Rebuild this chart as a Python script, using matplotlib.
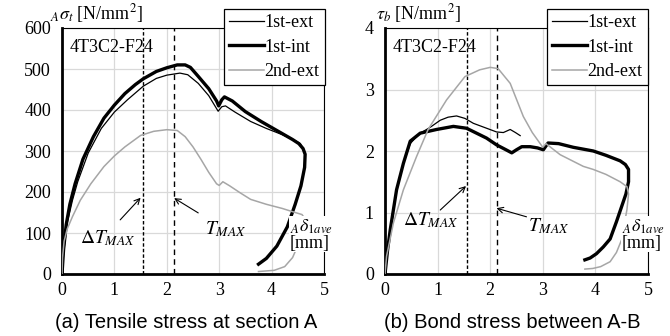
import matplotlib
matplotlib.use("Agg")
import matplotlib.pyplot as plt

plt.rcParams["font.family"] = ["Liberation Serif", "DejaVu Serif"]
plt.rcParams["mathtext.fontset"] = "stix"

# (a) tensile stress at section A: delta [mm], sigma [N/mm2]
a_ext_x = [0, 0.04, 0.1, 0.2, 0.3, 0.5, 0.75, 1.0, 1.25, 1.55, 1.8, 2.0, 2.25, 2.4,
           2.6, 2.8, 2.98, 3.05, 3.12, 3.3, 3.6, 3.9, 4.2, 4.45, 4.55, 4.6]
a_ext_y = [0, 60, 125, 180, 225, 295, 355, 395, 425, 458, 477, 485, 490, 486,
           465, 435, 397, 408, 410, 395, 372, 355, 340, 325, 318, 305]
a_int_x = [0, 0.03, 0.08, 0.15, 0.25, 0.4, 0.6, 0.8, 1.0, 1.2, 1.4, 1.55, 1.8, 2.0,
           2.2, 2.35, 2.45, 2.6, 2.8, 2.95, 2.99, 3.05, 3.1, 3.25, 3.5, 3.8, 4.1,
           4.4, 4.52, 4.6, 4.64, 4.63, 4.56, 4.45, 4.3, 4.1, 3.9, 3.75]
a_int_y = [0, 60, 120, 170, 220, 280, 335, 380, 412, 440, 462, 476, 494, 503,
           510, 510, 504, 482, 452, 422, 410, 425, 432, 422, 396, 372, 350,
           328, 318, 306, 292, 260, 215, 170, 115, 68, 38, 24]
a_2nd_x = [0, 0.01, 0.04, 0.1, 0.2, 0.35, 0.55, 0.8, 1.0, 1.2, 1.5, 1.75, 2.0, 2.2,
           2.35, 2.5, 2.65, 2.8, 2.95, 3.0, 3.07, 3.2, 3.4, 3.6, 3.9, 4.2, 4.45,
           4.58, 4.63, 4.6, 4.52, 4.4, 4.25, 4.05, 3.75]
a_2nd_y = [0, 40, 80, 110, 140, 180, 220, 262, 288, 310, 338, 348, 352, 350,
           335, 310, 280, 248, 220, 216, 225, 215, 198, 182, 170, 160, 150,
           145, 136, 110, 75, 40, 18, 9, 6]

# (b) bond stress between A-B: delta [mm], tau [N/mm2]
b_ext_x = [0, 0.05, 0.1, 0.22, 0.35, 0.48, 0.65, 0.85, 1.05, 1.2, 1.36, 1.52,
           1.68, 1.9, 2.12, 2.25, 2.38, 2.48, 2.57]
b_ext_y = [0, 0.4, 0.72, 1.37, 1.8, 2.12, 2.28, 2.38, 2.5, 2.55, 2.57, 2.53,
           2.45, 2.38, 2.31, 2.3, 2.35, 2.3, 2.25]
b_int_x = [0, 0.05, 0.1, 0.22, 0.35, 0.48, 0.67, 0.98, 1.3, 1.55, 1.93, 2.12,
           2.3, 2.41, 2.5, 2.6, 2.76, 2.9, 3.01, 3.1, 3.3, 3.58, 3.96, 4.2,
           4.47, 4.57, 4.63, 4.63, 4.58, 4.5, 4.4, 4.28, 4.15, 4.02, 3.9, 3.8]
b_int_y = [0, 0.4, 0.72, 1.37, 1.8, 2.16, 2.29, 2.35, 2.4, 2.37, 2.21, 2.1,
           2.02, 1.97, 2.02, 2.07, 2.07, 2.05, 2.02, 2.13, 2.12, 2.06, 2.0, 1.93,
           1.84, 1.78, 1.7, 1.5, 1.3, 1.1, 0.85, 0.57, 0.44, 0.33, 0.26, 0.23]
b_2nd_x = [0, 0.03, 0.16, 0.35, 0.6, 0.82, 1.17, 1.52, 1.8, 2.0, 2.15, 2.38,
           2.63, 2.8, 2.95, 3.0, 3.06, 3.33, 3.77, 3.96, 4.2, 4.47, 4.6, 4.63,
           4.6, 4.5, 4.4, 4.28, 4.1, 3.95, 3.8]
b_2nd_y = [0, 0.29, 0.83, 1.37, 1.91, 2.35, 2.83, 3.21, 3.32, 3.36, 3.34, 3.1,
           2.56, 2.3, 2.12, 2.06, 2.12, 1.94, 1.75, 1.7, 1.62, 1.5, 1.42, 1.3,
           1.05, 0.56, 0.35, 0.2, 0.12, 0.09, 0.08]

labels = ["1st-ext", "1st-int", "2nd-ext"]
d_tmax_x = 1.55
tmax_x = 2.13

fig = plt.figure(figsize=(6.7, 3.36), dpi=100)
ax1 = fig.add_axes([62 / 670, 62 / 336, 262 / 670, 246 / 336])
ax2 = fig.add_axes([385 / 670, 62 / 336, 263 / 670, 246 / 336])

grid_c = "#d9d9d9"
gray = "#a6a6a6"


def style_axes(ax, ymax, ystep):
    ax.set_xlim(0, 5)
    ax.set_ylim(0, ymax)
    ax.set_xticks(range(0, 6))
    ax.set_yticks([i * ystep for i in range(int(round(ymax / ystep)) + 1)])
    ax.grid(True, color=grid_c, lw=0.9)
    ax.set_axisbelow(True)
    ax.tick_params(length=0, labelsize=13, pad=6)
    ax.tick_params(axis="y", pad=8)
    for s in ["left", "bottom"]:
        ax.spines[s].set_linewidth(2.0)
    for s in ["top", "right"]:
        ax.spines[s].set_linewidth(0.8)


def draw(ax, ext, intl, sec):
    ax.plot(*ext, color="black", lw=0.9, label=labels[0], zorder=3)
    ax.plot(*intl, color="black", lw=2.4, label=labels[1], zorder=3)
    ax.plot(*sec, color=gray, lw=1.1, label=labels[2], zorder=3)
    ax.axvline(d_tmax_x, color="black", lw=1.0, ls=(0, (2.5, 1.5)), zorder=2)
    ax.axvline(tmax_x, color="black", lw=1.0, ls=(0, (4, 3)), zorder=2)


draw(ax1, (a_ext_x, a_ext_y), (a_int_x, a_int_y), (a_2nd_x, a_2nd_y))
draw(ax2, (b_ext_x, b_ext_y), (b_int_x, b_int_y), (b_2nd_x, b_2nd_y))
style_axes(ax1, 600, 100)
style_axes(ax2, 4, 1)

for ax, lx in [(ax1, 0.618), (ax2, 0.616)]:
    leg = ax.legend(loc="upper left", bbox_to_anchor=(lx, 1.077), fontsize=13,
                    handlelength=1.9, handletextpad=0.05, labelspacing=0.4,
                    borderpad=0.3, borderaxespad=0, fancybox=False,
                    framealpha=1, edgecolor="black")
    leg.get_frame().set_linewidth(0.9)
    leg.set_zorder(5)
    ax.text(0.03, 0.92, "4T3C2-F24", transform=ax.transAxes, fontsize=13,
            va="center", ha="left", zorder=4)

# annotations
arrow = dict(arrowstyle="->", color="black", lw=0.8, shrinkA=0, shrinkB=0)
ax1.annotate("", xy=(1.50, 186), xytext=(1.11, 132), arrowprops=arrow)
ax1.annotate("", xy=(2.14, 185), xytext=(2.6, 149), arrowprops=arrow)
ax1.text(0.34, 88, r"$\Delta T_{MAX}$", fontsize=14, va="center", ha="left")
ax1.text(2.72, 110, r"$T_{MAX}$", fontsize=14, va="center", ha="left")
ax2.annotate("", xy=(1.54, 1.43), xytext=(1.05, 1.04), arrowprops=arrow)
ax2.annotate("", xy=(2.12, 1.07), xytext=(2.69, 0.93), arrowprops=arrow)
ax2.text(0.34, 0.88, r"$\Delta T_{MAX}$", fontsize=14, va="center", ha="left")
ax2.text(2.72, 0.77, r"$T_{MAX}$", fontsize=14, va="center", ha="left")

# axis titles
fig.text(50 / 670, 1 - 14 / 336, r"$_{A}\sigma_{t}$ [N/mm$^{2}$]", fontsize=13,
         va="center", ha="left")
fig.text(376 / 670, 1 - 14 / 336, r"$\tau_{b}$ [N/mm$^{2}$]", fontsize=13,
         va="center", ha="left")
for ax, lx in [(ax1, 0.87), (ax2, 0.90)]:
    ax.text(lx, 0.16, r"$_{A}\delta_{\mathrm{1}ave}$" + "\n[mm]", transform=ax.transAxes,
            fontsize=13, va="center", ha="left", linespacing=0.9, zorder=6,
            bbox=dict(facecolor="white", edgecolor="none", pad=0.5))

fig.text(186 / 670, 1 - 323 / 336, "(a) Tensile stress at section A",
         family=["Liberation Sans", "DejaVu Sans"], fontsize=14.5, ha="center", va="center")
fig.text(512 / 670, 1 - 323 / 336, "(b) Bond stress between A-B",
         family=["Liberation Sans", "DejaVu Sans"], fontsize=14.5, ha="center", va="center")

fig.savefig("out.png", dpi=100)
